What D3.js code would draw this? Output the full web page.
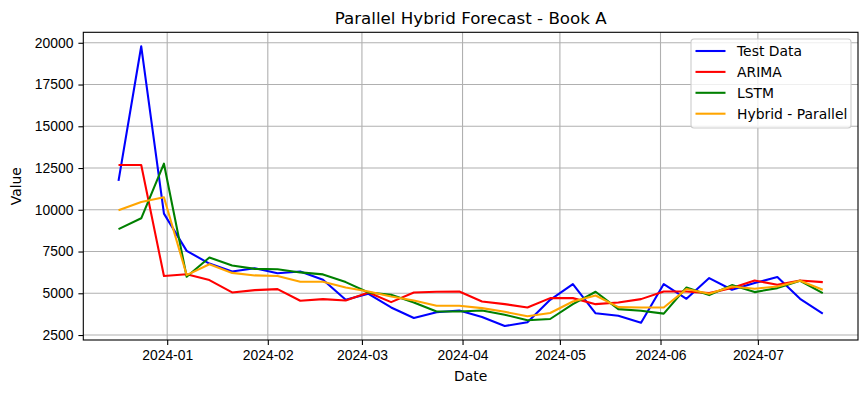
<!DOCTYPE html>
<html>
<head>
<meta charset="utf-8">
<script src="https://cdn.jsdelivr.net/npm/d3@7"></script>
<style>
  body { margin: 0; background: #fff; }
  svg { font-family: "DejaVu Sans", sans-serif; }
  .grid line { stroke: #b0b0b0; stroke-width: 1.1; }
  .axis path, .axis line { stroke: #000; stroke-width: 1.1; }
  .axis text { font-size: 13.9px; fill: #000; }
</style>
</head>
<body>
<div class="container"></div>
<script>
// weekly dates
var dates = ["2023-12-17","2023-12-24","2023-12-31","2024-01-07","2024-01-14","2024-01-21","2024-01-28",
  "2024-02-04","2024-02-11","2024-02-18","2024-02-25","2024-03-03","2024-03-10","2024-03-17","2024-03-24",
  "2024-03-31","2024-04-07","2024-04-14","2024-04-21","2024-04-28","2024-05-05","2024-05-12","2024-05-19",
  "2024-05-26","2024-06-02","2024-06-09","2024-06-16","2024-06-23","2024-06-30","2024-07-07","2024-07-14","2024-07-21"];

var testData = [11730, 19790, 9770, 7540, 6780, 6300, 6500, 6200, 6300, 5810, 4610, 4970, 4150, 3520, 3860,
  3970, 3580, 3040, 3260, 4610, 5550, 3800, 3660, 3240, 5550, 4670, 5910, 5210, 5610, 5970, 4670, 3780];
var arima = [12680, 12680, 6030, 6140, 5790, 5050, 5190, 5250, 4550, 4650, 4570, 5050, 4470, 5050, 5090,
  5110, 4510, 4350, 4150, 4710, 4710, 4350, 4450, 4650, 5110, 5110, 5010, 5310, 5770, 5510, 5770, 5670];
var lstm = [8840, 9490, 12760, 5990, 7140, 6660, 6460, 6440, 6250, 6130, 5670, 5050, 4910, 4450, 3910,
  3910, 3970, 3720, 3380, 3460, 4350, 5090, 4050, 3950, 3780, 5350, 4890, 5490, 5070, 5310, 5750, 5010];
var hybrid = [9970, 10470, 10750, 6090, 6740, 6220, 6070, 6030, 5690, 5690, 5350, 5110, 4810, 4570, 4250,
  4250, 4110, 3890, 3620, 3820, 4510, 4870, 4170, 4150, 4150, 5250, 4970, 5410, 5270, 5410, 5750, 5210];

var seriesNames = ["Test Data", "ARIMA", "LSTM", "Hybrid - Parallel"];
var seriesColors = ["blue", "red", "green", "orange"];
var yTicks = [2500, 5000, 7500, 10000, 12500, 15000, 17500, 20000];

var width = 868, height = 393;
var margin = {top: 32.3, right: 10, bottom: 53, left: 83.3};

var parse = d3.utcParse("%Y-%m-%d");
var dts = dates.map(parse);
var allSeries = [testData, arima, lstm, hybrid];

var svg = d3.select(".container").append("svg")
    .attr("width", width)
    .attr("height", height);

// matplotlib style 5% padding
var t0 = dts[0].getTime(), t1 = dts[dts.length - 1].getTime();
var tpad = (t1 - t0) * 0.05;
var x = d3.scaleUtc()
    .domain([new Date(t0 - tpad), new Date(t1 + tpad)])
    .range([margin.left, width - margin.right]);

var vmin = d3.min(allSeries, function(s) { return d3.min(s); });
var vmax = d3.max(allSeries, function(s) { return d3.max(s); });
var vpad = (vmax - vmin) * 0.05;
var y = d3.scaleLinear()
    .domain([vmin - vpad, vmax + vpad])
    .range([height - margin.bottom, margin.top]);

var xTicks = d3.utcMonth.range(new Date(t0), new Date(t1 + tpad));

// grid
var grid = svg.append("g").attr("class", "grid");
grid.selectAll(".gx").data(xTicks).enter().append("line")
    .attr("x1", function(d) { return x(d); }).attr("x2", function(d) { return x(d); })
    .attr("y1", margin.top).attr("y2", height - margin.bottom);
grid.selectAll(".gy").data(yTicks).enter().append("line")
    .attr("x1", margin.left).attr("x2", width - margin.right)
    .attr("y1", function(d) { return y(d); }).attr("y2", function(d) { return y(d); });

// lines
var line = d3.line()
    .x(function(d, i) { return x(dts[i]); })
    .y(function(d) { return y(d); });

allSeries.forEach(function(s, k) {
  svg.append("path")
    .datum(s)
    .attr("fill", "none")
    .attr("stroke", seriesColors[k])
    .attr("stroke-width", 2.08)
    .attr("stroke-linejoin", "round")
    .attr("d", line);
});

// axes
svg.append("g")
    .attr("class", "axis")
    .attr("transform", "translate(0," + (height - margin.bottom) + ")")
    .call(d3.axisBottom(x).tickValues(xTicks).tickFormat(d3.utcFormat("%Y-%m")).tickSize(4.9).tickPadding(4.9))
    .call(function(g) { g.select(".domain").remove(); });

svg.append("g")
    .attr("class", "axis")
    .attr("transform", "translate(" + margin.left + ",0)")
    .call(d3.axisLeft(y).tickValues(yTicks).tickFormat(d3.format("d")).tickSize(4.9).tickPadding(4.9))
    .call(function(g) { g.select(".domain").remove(); });

// frame
svg.append("rect")
    .attr("x", margin.left).attr("y", margin.top)
    .attr("width", width - margin.right - margin.left)
    .attr("height", height - margin.bottom - margin.top)
    .attr("fill", "none").attr("stroke", "#000").attr("stroke-width", 1.1);

// title + labels
var cx = (margin.left + width - margin.right) / 2;
svg.append("text")
    .attr("x", cx).attr("y", 23.5)
    .attr("text-anchor", "middle")
    .attr("font-size", "16.7px")
    .text("Parallel Hybrid Forecast - Book A");

svg.append("text")
    .attr("x", cx).attr("y", 381)
    .attr("text-anchor", "middle")
    .attr("font-size", "13.9px")
    .text("Date");

svg.append("text")
    .attr("transform", "translate(21," + ((margin.top + height - margin.bottom) / 2) + ") rotate(-90)")
    .attr("text-anchor", "middle")
    .attr("font-size", "13.9px")
    .text("Value");

// legend
var lg = svg.append("g").attr("transform", "translate(" + 691 + "," + 39 + ")");
lg.append("rect")
    .attr("width", 160).attr("height", 89)
    .attr("rx", 3)
    .attr("fill", "#fff").attr("fill-opacity", 0.8)
    .attr("stroke", "#cccccc").attr("stroke-width", 1.1);
seriesNames.forEach(function(name, k) {
  var ly = 12 + k * 20.9;
  lg.append("line")
    .attr("x1", 4.5).attr("x2", 34.5)
    .attr("y1", ly).attr("y2", ly)
    .attr("stroke", seriesColors[k]).attr("stroke-width", 2.08);
  lg.append("text")
    .attr("x", 46).attr("y", ly + 5)
    .attr("font-size", "13.9px")
    .text(name);
});
</script>
</body>
</html>
